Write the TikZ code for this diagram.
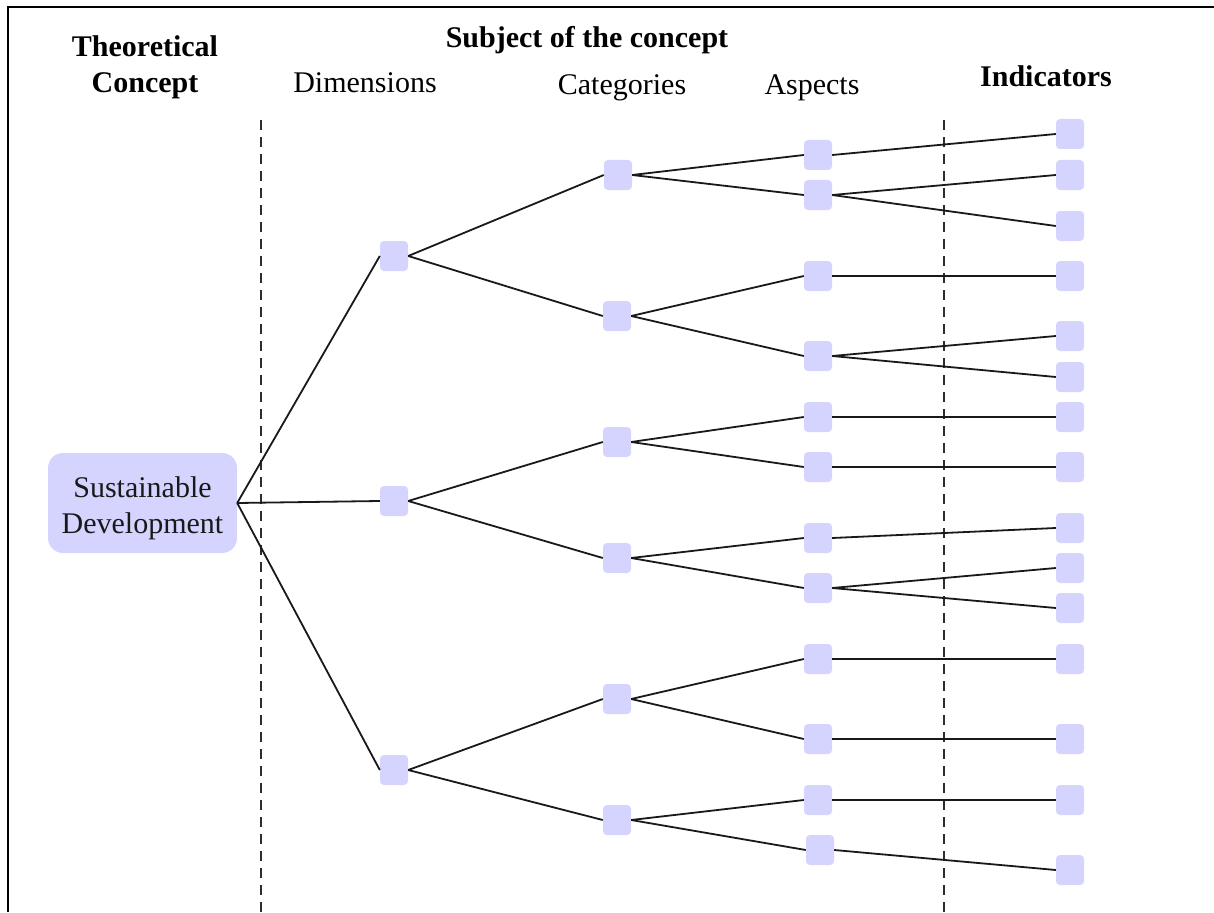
\documentclass[tikz,border=0pt]{standalone}
\usepackage{fontspec}
\setmainfont{Liberation Serif}
\definecolor{boxfill}{RGB}{212,212,255}
\definecolor{linecol}{RGB}{25,25,25}
\definecolor{sepcol}{RGB}{45,45,45}
\begin{document}
\begin{tikzpicture}[x=1pt,y=-1pt,
  sq/.style={rectangle, rounded corners=4pt, fill=boxfill, minimum width=28pt, minimum height=30pt, inner sep=0pt},
  root/.style={rectangle, rounded corners=15pt, fill=boxfill, minimum width=189pt, minimum height=100pt, inner sep=0pt, align=center, text=black!90, font=\fontsize{30}{36}\selectfont},
  link/.style={draw=linecol, line width=1.8pt},
  sep/.style={draw=sepcol, line width=2.8pt, dash pattern=on 10pt off 7pt},
  frame/.style={draw=black, line width=2pt},
  hdr/.style={inner sep=0pt, anchor=base, font=\fontsize{30}{36}\selectfont},
  hdrb/.style={inner sep=0pt, anchor=base, font=\fontsize{30}{36}\selectfont\bfseries}
]
\useasboundingbox (0,0) rectangle (1214,912);
\fill[white] (0,0) rectangle (1214,912);

% frame (top and left edges)
\coordinate (fTL) at (7.5,7.5);
\coordinate (fTR) at (1214,7.5);
\coordinate (fBL) at (7.5,912);
\draw[frame] (fTR) -- (fTL) -- (fBL);

% dashed separators
\coordinate (s1a) at (261,120);
\coordinate (s1b) at (261,912);
\coordinate (s2a) at (944,120);
\coordinate (s2b) at (944,912);
\draw[sep] (s1a) -- (s1b);
\draw[sep] (s2a) -- (s2b);

% headers
\node[hdrb] (hTheo) at (145,57) {Theoretical};
\node[hdrb] (hConc) at (145,93) {Concept};
\node[hdrb] (hSubj) at (587,48) {Subject of the concept};
\node[hdr] (hDim) at (365,93) {Dimensions};
\node[hdr] (hCat) at (622,95) {Categories};
\node[hdr] (hAsp) at (812,95) {Aspects};
\node[hdrb] (hInd) at (1046,87) {Indicators};

% root
\node[root] (SD) at (142.5,503) {\rule{0pt}{32pt}Sustainable\\Development};

% dimensions
\node[sq] (D1) at (394,256) {};
\node[sq] (D2) at (394,501) {};
\node[sq] (D3) at (394,770) {};

% categories
\node[sq] (C1) at (618,175) {};
\node[sq] (C2) at (617,316) {};
\node[sq] (C3) at (617,442) {};
\node[sq] (C4) at (617,558) {};
\node[sq] (C5) at (617,699) {};
\node[sq] (C6) at (617,820) {};

% aspects
\node[sq] (A1) at (818,155) {};
\node[sq] (A2) at (818,195) {};
\node[sq] (A3) at (818,276) {};
\node[sq] (A4) at (818,356) {};
\node[sq] (A5) at (818,417) {};
\node[sq] (A6) at (818,467) {};
\node[sq] (A7) at (818,538) {};
\node[sq] (A8) at (818,588) {};
\node[sq] (A9) at (818,659) {};
\node[sq] (A10) at (818,739) {};
\node[sq] (A11) at (818,800) {};
\node[sq] (A12) at (820,850) {};

% indicators
\node[sq] (I1) at (1070,134) {};
\node[sq] (I2) at (1070,175) {};
\node[sq] (I3) at (1070,226) {};
\node[sq] (I4) at (1070,276) {};
\node[sq] (I5) at (1070,336) {};
\node[sq] (I6) at (1070,377) {};
\node[sq] (I7) at (1070,417) {};
\node[sq] (I8) at (1070,467) {};
\node[sq] (I9) at (1070,528) {};
\node[sq] (I10) at (1070,568) {};
\node[sq] (I11) at (1070,608) {};
\node[sq] (I12) at (1070,659) {};
\node[sq] (I13) at (1070,739) {};
\node[sq] (I14) at (1070,800) {};
\node[sq] (I15) at (1070,870) {};

% root -> dimensions
\foreach \t in {D1,D2,D3} \draw[link] (SD.east) -- (\t.west);
% dimensions -> categories
\draw[link] (D1.east) -- (C1.west);
\draw[link] (D1.east) -- (C2.west);
\draw[link] (D2.east) -- (C3.west);
\draw[link] (D2.east) -- (C4.west);
\draw[link] (D3.east) -- (C5.west);
\draw[link] (D3.east) -- (C6.west);
% categories -> aspects
\draw[link] (C1.east) -- (A1.west);
\draw[link] (C1.east) -- (A2.west);
\draw[link] (C2.east) -- (A3.west);
\draw[link] (C2.east) -- (A4.west);
\draw[link] (C3.east) -- (A5.west);
\draw[link] (C3.east) -- (A6.west);
\draw[link] (C4.east) -- (A7.west);
\draw[link] (C4.east) -- (A8.west);
\draw[link] (C5.east) -- (A9.west);
\draw[link] (C5.east) -- (A10.west);
\draw[link] (C6.east) -- (A11.west);
\draw[link] (C6.east) -- (A12.west);
% aspects -> indicators
\draw[link] (A1.east) -- (I1.west);
\draw[link] (A2.east) -- (I2.west);
\draw[link] (A2.east) -- (I3.west);
\draw[link] (A3.east) -- (I4.west);
\draw[link] (A4.east) -- (I5.west);
\draw[link] (A4.east) -- (I6.west);
\draw[link] (A5.east) -- (I7.west);
\draw[link] (A6.east) -- (I8.west);
\draw[link] (A7.east) -- (I9.west);
\draw[link] (A8.east) -- (I10.west);
\draw[link] (A8.east) -- (I11.west);
\draw[link] (A9.east) -- (I12.west);
\draw[link] (A10.east) -- (I13.west);
\draw[link] (A11.east) -- (I14.west);
\draw[link] (A12.east) -- (I15.west);
\end{tikzpicture}
\end{document}
